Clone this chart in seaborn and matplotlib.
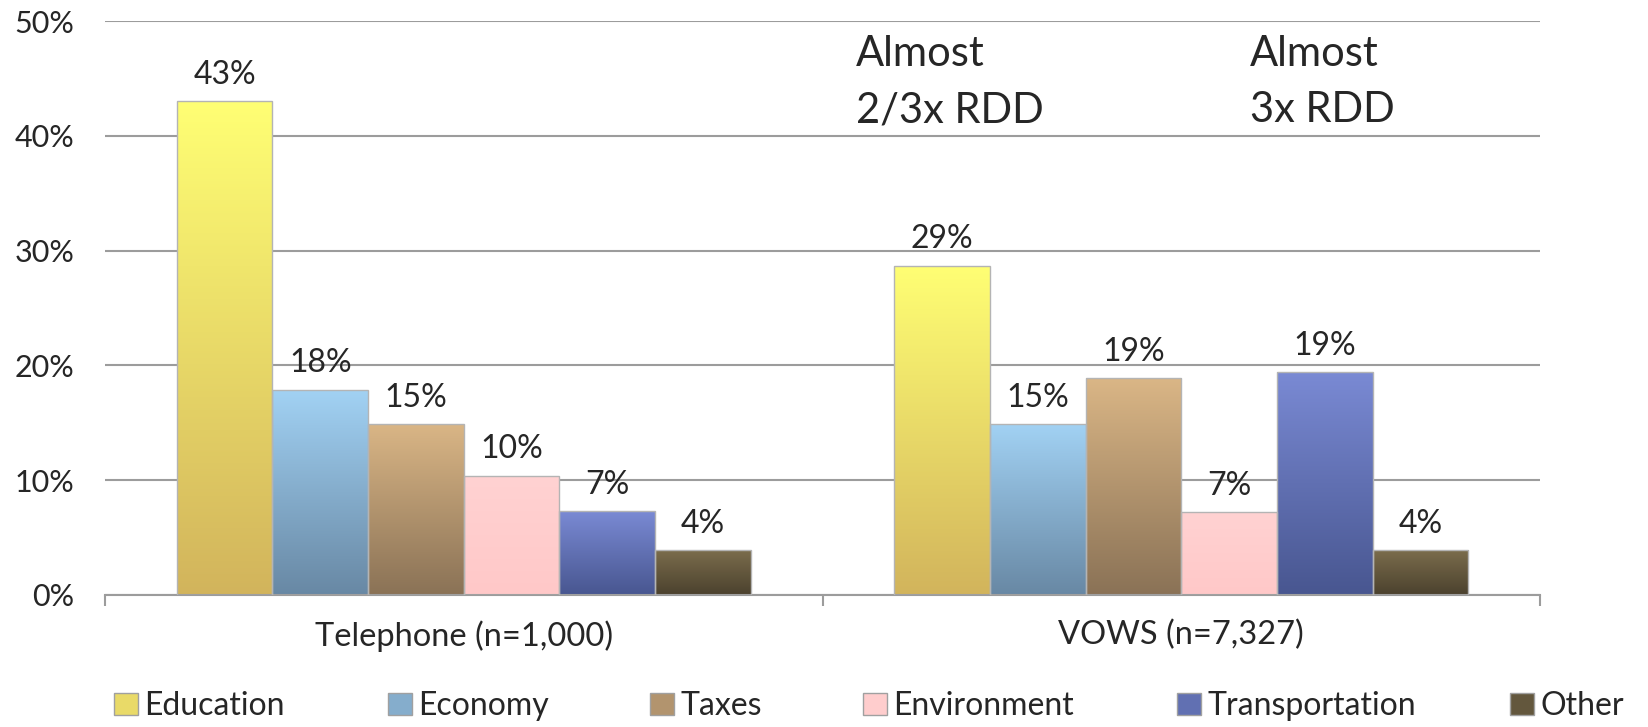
import numpy as np
import pandas as pd
import matplotlib.pyplot as plt
import seaborn as sns
from matplotlib.colors import to_rgb
from matplotlib.patches import Patch

groups = ['Telephone (n=1,000)', 'VOWS (n=7,327)']
issues = ['Education', 'Economy', 'Taxes', 'Environment', 'Transportation', 'Other']
telephone = [43.0, 17.9, 14.9, 10.4, 7.3, 3.9]
vows = [28.7, 14.9, 18.9, 7.2, 19.4, 3.9]
notes = ['Almost\n2/3x RDD', 'Almost\n3x RDD']

top_colors = ['#ffff74', '#a2d2f4', '#dab686', '#ffd2d2', '#7a8ad4', '#7b6d4c']
bottom_colors = ['#d2b45c', '#6888a4', '#8a7256', '#ffc8c8', '#485690', '#4b412e']
mid_colors = [tuple((np.array(to_rgb(a)) + np.array(to_rgb(b))) / 2)
              for a, b in zip(top_colors, bottom_colors)]

# legend entry positions (figure fraction), spaced like the original
legend_x = [0.0692, 0.2354, 0.3944, 0.5237, 0.7142, 0.9163]

df = pd.DataFrame({
    'group': np.repeat(groups, len(issues)),
    'issue': issues * len(groups),
    'value': telephone + vows,
})

sns.set_style('white')
plt.rcParams['font.family'] = ['Lato', 'DejaVu Sans']

fig, ax = plt.subplots(figsize=(16.48, 7.27), dpi=100)
fig.subplots_adjust(left=0.0637, right=0.9345, bottom=0.1816, top=0.971)

sns.barplot(data=df, x='group', y='value', hue='issue', order=groups,
            hue_order=issues, palette=mid_colors, width=0.8, ax=ax,
            edgecolor='#b4b4b4', linewidth=1, legend=False)

# vertical gradient fill for each bar
for cont, c_top, c_bot in zip(ax.containers, top_colors, bottom_colors):
    grad = np.linspace(to_rgb(c_top), to_rgb(c_bot), 256)[:, None, :]
    for bar in cont:
        x0, y0 = bar.get_x(), bar.get_y()
        w, h = bar.get_width(), bar.get_height()
        im = ax.imshow(grad, extent=[x0, x0 + w, y0, y0 + h], origin='upper',
                       aspect='auto', zorder=2, interpolation='bilinear')
        im.set_clip_path(bar)
        bar.set_facecolor('none')
        bar.set_zorder(3)
    ax.bar_label(cont, labels=[f'{v:.0f}%' for v in cont.datavalues],
                 padding=8, fontsize=23)

ax.set_xlim(-0.5, 1.5)
ax.set_ylim(0, 50)
ax.set_yticks(range(0, 51, 10))
ax.set_yticklabels([f'{v}%' for v in range(0, 51, 10)])
ax.yaxis.grid(True, color='#9c9c9c', linewidth=1.5)
ax.set_axisbelow(True)
for side in ['top', 'left', 'right']:
    ax.spines[side].set_visible(False)
ax.spines['bottom'].set_color('#9c9c9c')
ax.spines['bottom'].set_linewidth(1.5)

ax.set_xticks([-0.5, 0.5, 1.5], minor=True)
ax.tick_params(axis='x', which='minor', length=8, width=1.5, color='#9c9c9c',
               direction='out', bottom=True)
ax.tick_params(axis='x', which='major', length=0, pad=18, labelsize=23.5)
ax.tick_params(axis='y', length=0, pad=22, labelsize=22)
ax.set_xlabel('')
ax.set_ylabel('')

ax.text(0.547, 41.2, notes[0], fontsize=30, va='baseline', linespacing=1.58)
ax.text(1.096, 41.2, notes[1], fontsize=30, va='baseline', linespacing=1.58)

for x, label, c in zip(legend_x, issues, mid_colors):
    fig.legend([Patch(facecolor=c, edgecolor='#a0a0a0')], [label],
               loc='center left', bbox_to_anchor=(x, 0.029), frameon=False,
               fontsize=23, handlelength=0.75, handleheight=0.68,
               handletextpad=0.2, borderaxespad=0, borderpad=0)

fig.savefig('out.png', dpi=100)
